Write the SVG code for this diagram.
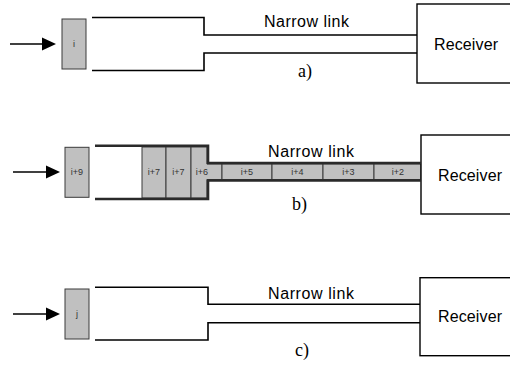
<svg xmlns="http://www.w3.org/2000/svg" width="510" height="365" viewBox="0 0 510 365">
<style>
.bg{fill:#ffffff}
.wire{fill:none;stroke:#000;stroke-width:1.6}
.chan{fill:none;stroke:#2a2a2a;stroke-width:2.6;stroke-linejoin:miter}
.pkt{fill:#c0c0c0;stroke:#3a3a3a;stroke-width:1}
.rx{fill:#fff;stroke:#000;stroke-width:1.4}
.lbl{font-family:"Liberation Sans",Arial,sans-serif;font-size:16px;fill:#000}
.cap{font-family:"Liberation Serif","Times New Roman",serif;font-size:18px;fill:#000}
.pl{font-family:"Liberation Sans",Arial,sans-serif;font-size:9px;fill:#333;text-anchor:middle}
.arrow{stroke:#000;stroke-width:1.6}
</style>
<rect class="bg" x="0" y="0" width="510" height="365"/>

<!-- Panel a -->
<g id="a-packet"><rect class="pkt" x="62" y="19" width="24" height="50"/><text class="pl" x="74" y="47">i</text></g>
<g id="a-receiver"><rect class="rx" x="417" y="4" width="100" height="79"/><text class="lbl" x="434" y="50" textLength="64">Receiver</text></g>
<g id="a-labels"><text class="lbl" x="264" y="27" textLength="85">Narrow link</text><text class="cap" x="298" y="77">a)</text></g>

<!-- Panel b -->
<g id="b-packet-in"><rect class="pkt" x="65" y="147.3" width="24" height="50"/><text class="pl" x="77" y="175">i+9</text></g>
<g id="b-queue">
<rect class="pkt" x="142" y="147" width="24" height="51"/><text class="pl" x="154" y="175">i+7</text>
<rect class="pkt" x="166" y="147" width="25" height="51"/><text class="pl" x="178.5" y="175">i+7</text>
<polygon class="pkt" points="191,147 207,147 207,164 222,164 222,179.5 207,179.5 207,198 191,198"/><text class="pl" x="202" y="175">i+6</text>
<rect class="pkt" x="222" y="164" width="50" height="15.5"/><text class="pl" x="247" y="175" font-size="8">i+5</text>
<rect class="pkt" x="272" y="164" width="51" height="15.5"/><text class="pl" x="297.5" y="175" font-size="8">i+4</text>
<rect class="pkt" x="323" y="164" width="51" height="15.5"/><text class="pl" x="348.5" y="175" font-size="8">i+3</text>
<rect class="pkt" x="374" y="164" width="47" height="15.5"/><text class="pl" x="398" y="175" font-size="8">i+2</text>
</g>
<g id="b-receiver"><rect class="rx" x="421" y="135" width="100" height="79"/><text class="lbl" x="438" y="181" textLength="64">Receiver</text></g>
<g id="b-labels"><text class="lbl" x="268" y="157" textLength="86">Narrow link</text><text class="cap" x="292" y="210">b)</text></g>

<!-- Panel c -->
<g id="c-packet"><rect class="pkt" x="65" y="289" width="24" height="50"/><text class="pl" x="77" y="317">j</text></g>
<g id="c-receiver"><rect class="rx" x="420" y="277.7" width="100" height="78"/><text class="lbl" x="438" y="322" textLength="64">Receiver</text></g>
<g id="c-labels"><text class="lbl" x="268" y="299" textLength="86">Narrow link</text><text class="cap" x="295" y="356">c)</text></g>

<!-- connectors -->
<g id="connectors">
<line class="arrow" x1="10" y1="44" x2="44" y2="44"/><polygon points="42,37.5 56,44 42,50.5" fill="#000"/>
<path class="wire" d="M92,17.5 H204 V35 H417 M92,70.5 H204 V53 H417"/>
<line class="arrow" x1="13" y1="172" x2="48" y2="172"/><polygon points="46,165.5 60,172 46,178.5" fill="#000"/>
<path class="chan" d="M95,145.7 H208 V163 H421 M95,199 H208 V180.5 H421"/>
<line class="arrow" x1="13" y1="314" x2="48" y2="314"/><polygon points="46,307.5 60,314 46,320.5" fill="#000"/>
<path class="wire" d="M95,287.3 H208 V304.3 H420 M95,340 H208 V322.7 H420"/>
</g>
</svg>
